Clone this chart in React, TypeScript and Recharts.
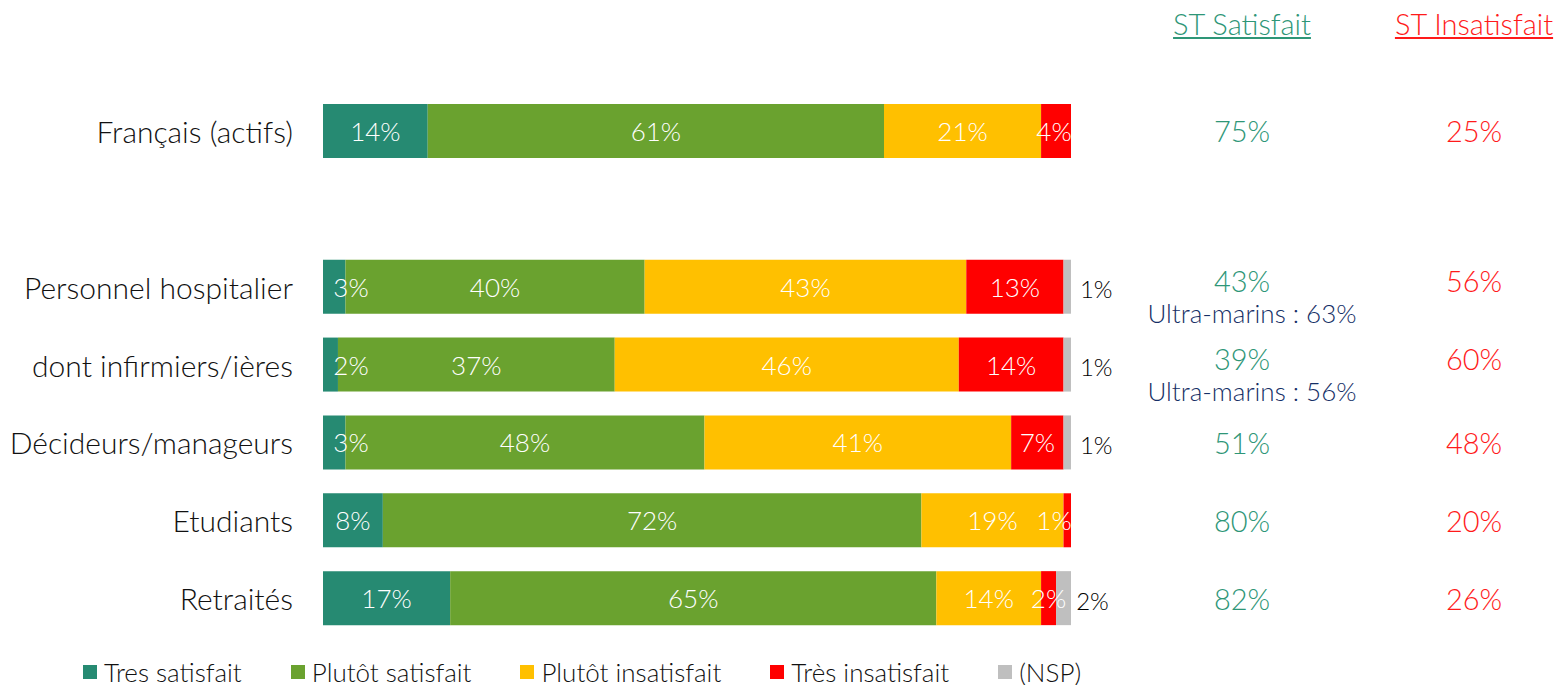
import { BarChart, Bar, XAxis, YAxis, Legend, LabelList } from 'recharts';

const categories = ['Français (actifs)', '', 'Personnel hospitalier', 'dont infirmiers/ières', 'Décideurs/manageurs', 'Etudiants', 'Retraités'];
const tresSatisfait = [14, null, 3, 2, 3, 8, 17];
const plutotSatisfait = [61, null, 40, 37, 48, 72, 65];
const plutotInsatisfait = [21, null, 43, 46, 41, 19, 14];
const tresInsatisfait = [4, null, 13, 14, 7, 1, 2];
const nsp = [0, null, 1, 1, 1, 0, 2];
const stSatisfait = ['75%', '', '43%', '39%', '51%', '80%', '82%'];
const stInsatisfait = ['25%', '', '56%', '60%', '48%', '20%', '26%'];
const ultraMarins = ['', '', '63%', '56%', '', '', ''];

const series = [
  { key: 'tres', name: 'Tres satisfait', color: '#268A72', values: tresSatisfait },
  { key: 'plutot', name: 'Plutôt satisfait', color: '#6AA22F', values: plutotSatisfait },
  { key: 'plutotIns', name: 'Plutôt insatisfait', color: '#FFC000', values: plutotInsatisfait },
  { key: 'tresIns', name: 'Très insatisfait', color: '#FF0000', values: tresInsatisfait },
  { key: 'nsp', name: '(NSP)', color: '#BFBFBF', values: nsp },
];

const data = categories.map((name, i) => {
  const row: Record<string, any> = { name };
  series.forEach((s) => (row[s.key] = s.values[i]));
  return row;
});

const FONT = 'Lato, "Open Sans", sans-serif';
const PLOT_LEFT = 323;
const PLOT_RIGHT = 1071;
const TEAL_TEXT = '#2E9677';
const RED_TEXT = '#FF1A1A';
const NAVY = '#152F66';

const innerLabel = (props: any) => {
  const { x, y, width, height, value } = props;
  if (!value) return null;
  let cx = x + width / 2;
  cx = Math.max(cx, PLOT_LEFT + 28);
  cx = Math.min(cx, PLOT_RIGHT - 17);
  return (
    <text x={cx} y={y + height / 2} fill="#fff" fontSize={26} fontWeight={300} textAnchor="middle" dominantBaseline="central" fontFamily={FONT}>
      {value}%
    </text>
  );
};

const nspLabel = (props: any) => {
  const { x, y, width, height, value } = props;
  if (!value) return null;
  return (
    <text x={x + width / 2 + 29} y={y + height / 2 + 2} fill="#000" fontSize={24} fontWeight={300} textAnchor="middle" dominantBaseline="central" fontFamily={FONT}>
      {value}%
    </text>
  );
};

const CategoryTick = (props: any) => {
  const { x, y, payload } = props;
  if (!payload.value) return null;
  return (
    <text x={x} y={y} fill="#111" fontSize={30} fontWeight={300} textAnchor="end" dominantBaseline="central" fontFamily={FONT}>
      {payload.value}
    </text>
  );
};

const SideTick = (props: any) => {
  const { x, y, index } = props;
  const sat = stSatisfait[index];
  if (!sat) return null;
  const note = ultraMarins[index];
  const shift = note ? -6 : 0;
  return (
    <g fontFamily={FONT} fontWeight={300}>
      <text x={x + 171} y={y + shift} fill={TEAL_TEXT} fontSize={29} textAnchor="middle" dominantBaseline="central">
        {sat}
      </text>
      <text x={x + 403} y={y + shift} fill={RED_TEXT} fontSize={29} textAnchor="middle" dominantBaseline="central">
        {stInsatisfait[index]}
      </text>
      {note && (
        <text x={x + 181} y={y + 26} fill={NAVY} fontSize={26} textAnchor="middle" dominantBaseline="central">
          Ultra-marins : {note}
        </text>
      )}
    </g>
  );
};

const LegendContent = () => (
  <div style={{ display: 'flex', alignItems: 'center', fontFamily: FONT, fontWeight: 300, fontSize: 26, lineHeight: '26px', color: '#111', height: 26 }}>
    {series.map((s) => (
      <div key={s.key} style={{ display: 'flex', alignItems: 'center', marginRight: 49 }}>
        <span style={{ width: 14, height: 14, background: s.color, display: 'inline-block', marginRight: 7 }} />
        <span>{s.name}</span>
      </div>
    ))}
  </div>
);

const headerStyle = (left: number, color: string): React.CSSProperties => ({
  position: 'absolute',
  left,
  top: 6,
  transform: 'translateX(-50%)',
  color,
  fontSize: 29,
  fontWeight: 300,
  textDecoration: 'underline',
  whiteSpace: 'nowrap',
});

export default function App() {
  return (
    <div style={{ position: 'absolute', left: 0, top: 0, width: 1557, height: 685, background: '#fff', fontFamily: FONT }}>
      <div style={headerStyle(1242, TEAL_TEXT)}>ST Satisfait</div>
      <div style={headerStyle(1474, RED_TEXT)}>ST Insatisfait</div>
      <BarChart width={1557} height={685} data={data} layout="vertical" barSize={54} margin={{ top: 92, right: 0, left: 0, bottom: 22 }}>
        <XAxis type="number" domain={[0, 100]} hide />
        <YAxis yAxisId="cat" type="category" dataKey="name" width={PLOT_LEFT} axisLine={false} tickLine={false} tickSize={0} tickMargin={30} tick={<CategoryTick />} interval={0} />
        <YAxis yAxisId="side" orientation="right" type="category" dataKey="name" width={1557 - PLOT_RIGHT} axisLine={false} tickLine={false} tickSize={0} tickMargin={0} tick={<SideTick />} interval={0} />
        {series.map((s) => (
          <Bar key={s.key} yAxisId="cat" dataKey={s.key} name={s.name} stackId="a" fill={s.color} isAnimationActive={false}>
            <LabelList dataKey={s.key} content={s.key === 'nsp' ? nspLabel : innerLabel} />
          </Bar>
        ))}
        <Legend verticalAlign="bottom" align="left" content={<LegendContent />} wrapperStyle={{ left: 83, bottom: 0, width: 1200 }} />
      </BarChart>
    </div>
  );
}
